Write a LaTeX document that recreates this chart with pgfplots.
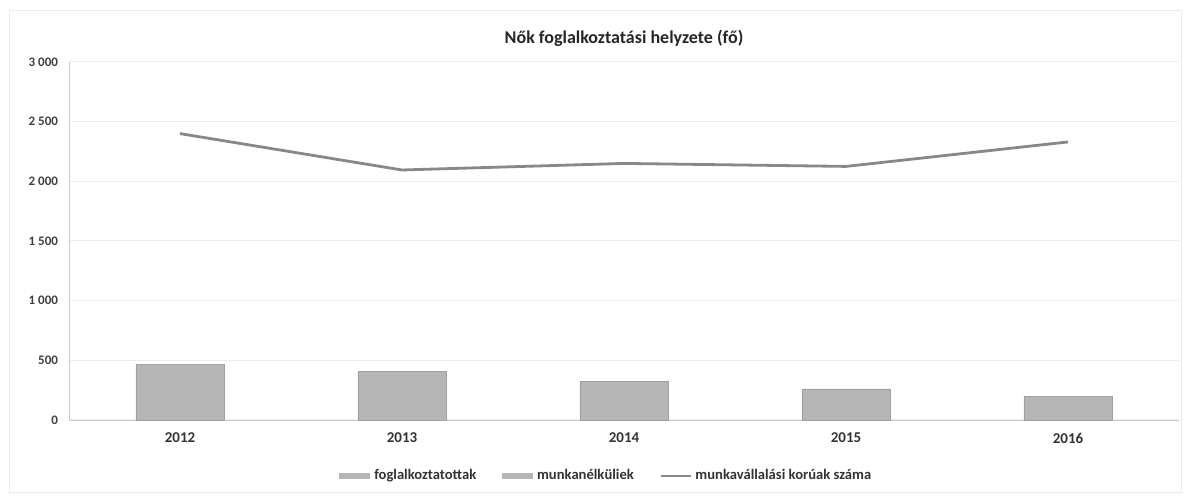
\documentclass[border=0pt]{standalone}
\usepackage{pgfplots}
\pgfplotsset{compat=1.18}
\usepackage{fontspec}
\setmainfont{Carlito}
\definecolor{barfill}{HTML}{B6B6B6}
\definecolor{bardraw}{HTML}{A0A0A0}
\definecolor{linec}{HTML}{888888}
\definecolor{gridc}{HTML}{EDEDED}
\begin{document}
\begin{tikzpicture}
\useasboundingbox (-34.5pt,-38.5pt) rectangle (559.5pt,210pt);
\draw[black!8, line width=0.4pt] (-30pt,-36pt) rectangle (556pt,205pt);
\begin{axis}[
  at={(0pt,0pt)}, anchor=south west,
  scale only axis, width=555pt, height=179pt,
  xmin=-0.5, xmax=4.5, ymin=0, ymax=3000,
  xtick={0,1,2,3,4}, xticklabels={2012,2013,2014,2015,2016},
  ytick={0,500,1000,1500,2000,2500,3000},
  /pgf/number format/assume math mode=true,
  /pgf/number format/1000 sep={\ },
  yticklabel style={font=\fontsize{6.5}{7.5}\selectfont\bfseries, text=black!75, xshift=-2pt},
  xticklabel style={font=\fontsize{7.5}{8.5}\selectfont\bfseries, text=black!80, yshift=-3pt},
  major tick length=0pt,
  ymajorgrids, grid style={gridc, line width=0.5pt},
  axis x line*=bottom, axis y line*=left,
  x axis line style={black!20, -}, y axis line style={black!20, -},
  title={\fontsize{9}{10}\selectfont\bfseries Nők foglalkoztatási helyzete (fő)},
  title style={yshift=-2pt, text=black!85},
  legend columns=3,
  legend style={at={(0.485,-0.156)}, anchor=center, draw=none, fill=none,
    font=\fontsize{7.3}{8.5}\selectfont\bfseries, text=black!80,
    /tikz/every even column/.append style={column sep=11pt}},
  clip=false,
]
\addlegendimage{area legend, legend image code/.code={\fill[barfill] (0pt,-1.2pt) rectangle (15pt,1.2pt);}}
\addlegendentry{foglalkoztatottak}
\addplot[ybar, bar width=44pt, fill=barfill, draw=bardraw, line width=0.4pt,
  legend image code/.code={\fill[barfill] (0pt,-1.2pt) rectangle (15pt,1.2pt);}]
  coordinates {(0,465) (1,405) (2,320) (3,260) (4,195)};
\addlegendentry{munkanélküliek}
\addplot[linec, line width=1.4pt, mark=none,
  legend image code/.code={\draw[linec, line width=0.8pt] (0pt,0pt) -- (15pt,0pt);}]
  coordinates {(0,2400) (1,2095) (2,2150) (3,2125) (4,2330)};
\addlegendentry{munkavállalási korúak száma}
\end{axis}
\end{tikzpicture}
\end{document}
